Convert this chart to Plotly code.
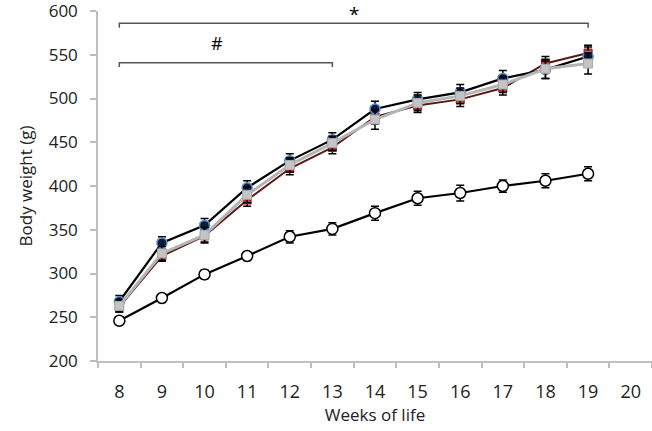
import plotly.graph_objects as go

weeks = [8, 9, 10, 11, 12, 13, 14, 15, 16, 17, 18, 19]
tick_weeks = [8, 9, 10, 11, 12, 13, 14, 15, 16, 17, 18, 19, 20]

black_vals = [268, 335, 355, 398, 429, 453, 488, 499, 507, 523, 533, 548]
black_err = [7, 7, 8, 8, 8, 8, 9, 8, 9, 9, 10, 11]
red_vals = [262, 320, 343, 384, 420, 444, 479, 492, 499, 512, 540, 552]
red_err = [6, 6, 7, 7, 7, 7, 8, 8, 8, 8, 8, 9]
gray_vals = [263, 323, 344, 390, 424, 449, 476, 495, 503, 516, 534, 540]
gray_err = [7, 8, 9, 9, 8, 8, 11, 9, 9, 9, 11, 12]
open_vals = [246, 272, 299, 320, 342, 351, 369, 386, 392, 400, 406, 414]
open_err = [4, 5, 5, 5, 7, 7, 8, 8, 9, 7, 8, 8]

FONT = "Open Sans"

fig = go.Figure()

def err(e):
    return dict(type="data", array=e, visible=True, color="black", thickness=1.5, width=4)

fig.add_trace(go.Scatter(x=weeks, y=open_vals, mode="lines+markers",
                         line=dict(color="black", width=2.2),
                         marker=dict(symbol="circle", size=11, color="white",
                                     line=dict(color="black", width=1.5)),
                         error_y=err(open_err), showlegend=False))
fig.add_trace(go.Scatter(x=weeks, y=red_vals, mode="lines+markers",
                         line=dict(color="#5a1a1a", width=2),
                         marker=dict(symbol="square", size=8, color="#c8372d",
                                     line=dict(color="#8a1c1c", width=1)),
                         error_y=err(red_err), showlegend=False))
fig.add_trace(go.Scatter(x=weeks, y=black_vals, mode="lines+markers",
                         line=dict(color="black", width=2.2),
                         marker=dict(symbol="circle", size=10, color="#0b1a36",
                                     line=dict(color="#5b8cc9", width=1.5)),
                         error_y=err(black_err), showlegend=False))
fig.add_trace(go.Scatter(x=weeks, y=gray_vals, mode="lines+markers",
                         line=dict(color="#b5b5b5", width=3),
                         marker=dict(symbol="square", size=9, color="#c4c4c4",
                                     line=dict(color="#aaaaaa", width=1)),
                         error_y=err(gray_err), showlegend=False))

# significance brackets
def bracket(x0, x1, y, drop):
    fig.add_shape(type="path", xref="x", yref="y",
                  path=f"M {x0},{y-drop} L {x0},{y} L {x1},{y} L {x1},{y-drop}",
                  line=dict(color="#555555", width=1.5))

bracket(8, 19, 586, 5)
bracket(8, 13, 541, 5)
fig.add_annotation(x=13.5, y=597, xref="x", yref="y", text="*", showarrow=False,
                   font=dict(family=FONT, size=19, color="black"))
fig.add_annotation(x=10.3, y=564, xref="x", yref="y", text="#", showarrow=False,
                   font=dict(family=FONT, size=18, color="black"))

fig.update_layout(
    width=652, height=431,
    margin=dict(l=98, r=0, t=11, b=70, autoexpand=False),
    paper_bgcolor="white", plot_bgcolor="white",
    font=dict(family=FONT, size=17, color="#222222"),
    xaxis=dict(range=[7.5, 20.5], tickvals=tick_weeks, ticktext=[str(t) for t in tick_weeks],
               ticks="", showgrid=False, zeroline=False, automargin=False,
               showline=True, linecolor="#bfbfbf", linewidth=1.5,
               ticklabelstandoff=14, ticklabeloverflow="allow",
               minor=dict(ticks="outside", tick0=7.5, dtick=1, ticklen=5,
                          tickcolor="#bfbfbf", tickwidth=1.5, showgrid=False),
               title=dict(text="Weeks of life", font=dict(family=FONT, size=17), standoff=7),
               tickfont=dict(family=FONT, size=18)),
    yaxis=dict(range=[200, 600], tickvals=[200, 250, 300, 350, 400, 450, 500, 550, 600],
               ticks="outside", ticklen=6, tickcolor="#bfbfbf", tickwidth=1.5,
               showgrid=False, zeroline=False, automargin=False,
               showline=True, linecolor="#bfbfbf", linewidth=1.5,
               ticklabelstandoff=9, ticklabeloverflow="allow",
               title=dict(text="Body weight (g)", font=dict(family=FONT, size=17), standoff=12),
               tickfont=dict(family=FONT, size=17)),
)

fig.write_html("out.html", config={"displayModeBar": False},
               post_script="document.body.style.margin='0';document.body.style.padding='0';")
